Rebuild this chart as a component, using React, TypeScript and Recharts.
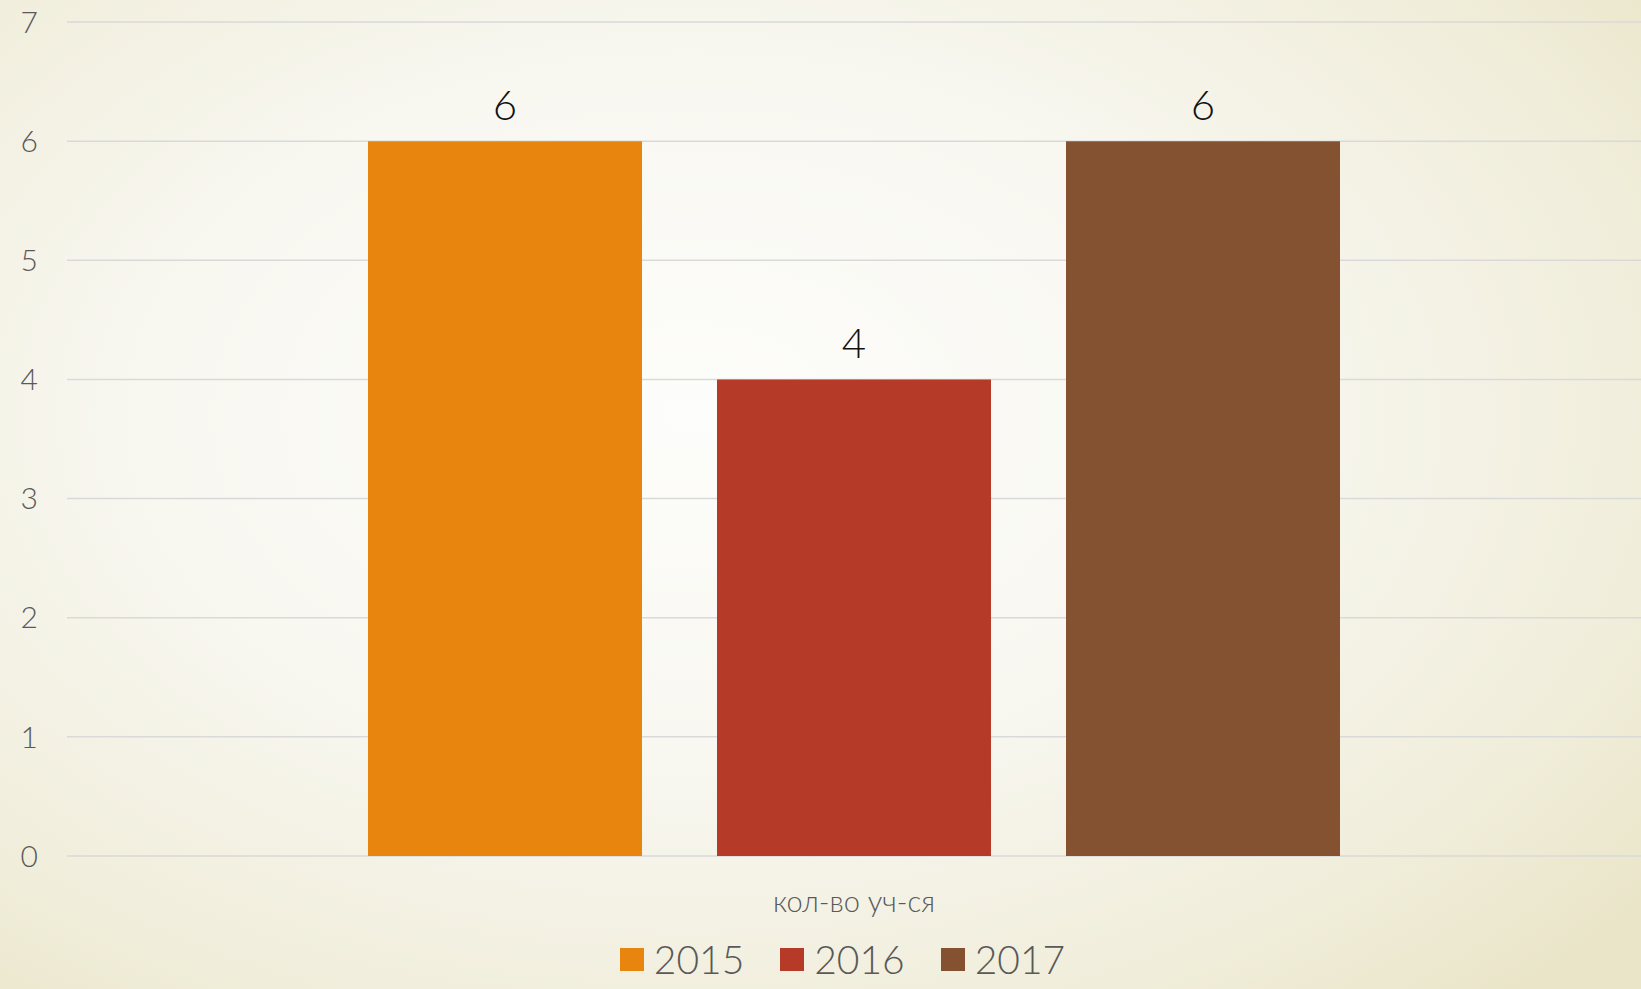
import { BarChart, Bar, XAxis, YAxis, CartesianGrid, Legend, LabelList } from "recharts"

// values
const categories = ["кол-во уч-ся"]
const years = ["2015", "2016", "2017"]
const values2015 = [6]
const values2016 = [4]
const values2017 = [6]
const yTicks = [0, 1, 2, 3, 4, 5, 6, 7]

const colors = ["#E8850F", "#B53A27", "#845230"]
const seriesValues = [values2015, values2016, values2017]

const data = categories.map((name, i) => {
  const row: Record<string, string | number> = { name }
  years.forEach((y, k) => {
    row[y] = seriesValues[k][i]
  })
  return row
})

const font = "Lato, 'DejaVu Sans', sans-serif"

function LegendContent() {
  return (
    <div
      style={{
        display: "flex",
        justifyContent: "center",
        alignItems: "flex-start",
        height: 52,
        paddingLeft: 44,
        fontFamily: font,
        fontWeight: 300,
        fontSize: 39,
        color: "#595959",
      }}
    >
      {years.map((y, k) => (
        <div key={y} style={{ display: "flex", alignItems: "center", height: 44, marginRight: k < years.length - 1 ? 36 : 0 }}>
          <div style={{ width: 24, height: 23, background: colors[k], marginRight: 10 }} />
          <span style={{ lineHeight: "44px" }}>{y}</span>
        </div>
      ))}
    </div>
  )
}

export default function App() {
  return (
    <div
      style={{
        position: "absolute",
        left: 0,
        top: 0,
        width: 1641,
        height: 989,
        overflow: "hidden",
        background:
          "radial-gradient(ellipse 75% 80% at 42% 42%, #FDFDFB 0%, #F8F7F0 45%, #F0EDDA 80%, #EAE5C8 100%)",
      }}
    >
      <BarChart
        width={1641}
        height={989}
        data={data}
        margin={{ top: 22, right: 0, left: 0, bottom: 0 }}
        barGap={75}
        barCategoryGap={301}
      >
        <CartesianGrid horizontal vertical={false} stroke="#D9D9D9" strokeWidth={1.5} />
        <XAxis
          dataKey="name"
          axisLine={false}
          tickLine={false}
          tickSize={0}
          tickMargin={35}
          height={81}
          tick={{ fill: "#595959", fontSize: 29, fontFamily: font, fontWeight: 300 }}
        />
        <YAxis
          domain={[0, 7]}
          ticks={yTicks}
          interval={0}
          axisLine={false}
          tickLine={false}
          tickSize={0}
          tickMargin={29}
          width={67}
          tick={{ fill: "#595959", fontSize: 30, fontFamily: font, fontWeight: 300 }}
        />
        <Legend verticalAlign="bottom" content={<LegendContent />} />
        {years.map((y, k) => (
          <Bar key={y} dataKey={y} fill={colors[k]} isAnimationActive={false}>
            <LabelList
              dataKey={y}
              position="top"
              offset={21}
              fill="#111111"
              fontSize={42}
              fontFamily={font}
              fontWeight={300}
            />
          </Bar>
        ))}
      </BarChart>
    </div>
  )
}
